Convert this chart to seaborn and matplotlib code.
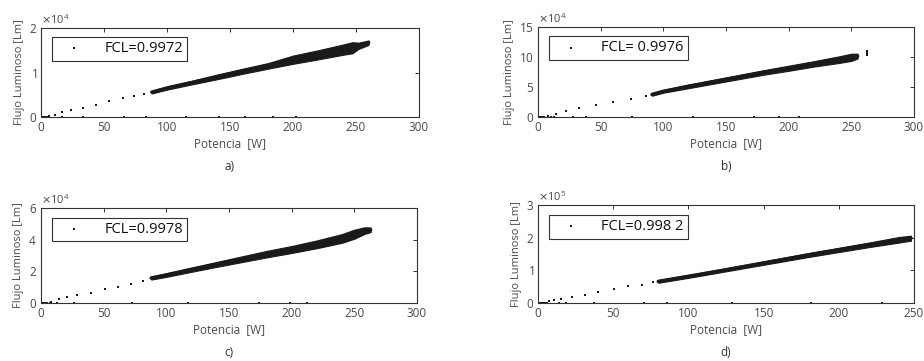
import matplotlib
matplotlib.use("Agg")
import matplotlib.pyplot as plt
import matplotlib.ticker as mticker
import seaborn as sns
import pandas as pd

sns.set_theme(style="white")
plt.rcParams['font.family'] = ['Open Sans', 'DejaVu Sans']
plt.rcParams['mathtext.fontset'] = 'dejavusans'

# ---------------- data ----------------
panel_ids = ["a)", "b)", "c)", "d)"]
fcl_labels = ["FCL=0.9972", "FCL= 0.9976", "FCL=0.9978", "FCL=0.998 2"]

# sparse low-power points (W, Lm)
sparse_x_a = [0.5, 1, 1.5, 2, 3, 4, 5, 6.6, 11, 17, 24, 33, 43.6, 54, 65, 74, 82]
sparse_y_a = [0, 20, 0, 40, 0, 60, 0, 150, 520, 1040, 1490, 2090, 2760, 3500, 4180, 4700, 5220]
sparse_x_b = [0.5, 1, 1.5, 2, 3, 4, 5, 8, 14.5, 22, 33, 46, 60, 74, 86, 262.5, 262.5, 262.5, 262.5]
sparse_y_b = [0, 200, 0, 300, 0, 400, 0, 2500, 5500, 10000, 14400, 19300, 24900, 29800, 34300, 104000, 106000, 108000, 110000]
sparse_x_c = [0.5, 1, 1.5, 2, 3, 4, 5, 8, 14, 21, 29, 39.5, 50.7, 61.6, 71.5, 81]
sparse_y_c = [0, 50, 0, 80, 0, 100, 0, 600, 2300, 3700, 5000, 6600, 8900, 10300, 12000, 14000]
sparse_x_d = [0.5, 1, 1.5, 2, 3, 4, 5, 7.6, 10.9, 15, 22.8, 31, 40, 50.4, 60, 69, 76.7]
sparse_y_d = [0, 500, 0, 800, 0, 1000, 0, 5000, 10000, 13000, 18000, 25000, 34000, 43000, 51000, 55000, 64000]

# points lying on the zero line
zero_x_a = [6.6, 17, 33, 66, 83, 115, 141, 162, 184, 202]
zero_x_b = [10.6, 13, 28, 38, 75, 124, 172, 192, 208]
zero_x_c = [7.5, 12.8, 26, 73, 117, 174, 199, 212]
zero_x_d = [6, 14, 18.5, 37, 70.6, 86, 129, 181.5, 229]

# dense band: power, lower and upper flux
band_x_a = [88, 100, 120, 140, 160, 180, 200, 220, 240, 247, 252, 260]
band_lo_a = [5300, 6150, 7350, 8500, 9700, 10850, 11950, 12950, 14000, 14300, 15300, 16200]
band_hi_a = [5850, 6850, 8150, 9550, 10850, 12100, 13800, 15000, 16300, 16800, 16700, 17200]
band_x_b = [91, 100, 120, 140, 160, 180, 200, 220, 240, 250, 255]
band_lo_b = [35500, 40500, 48000, 55500, 63000, 70500, 77000, 84000, 90000, 93500, 97500]
band_hi_b = [39500, 45000, 54000, 62000, 70000, 78000, 85500, 93000, 101000, 105500, 105500]
band_x_c = [88, 100, 120, 140, 160, 180, 200, 220, 240, 250, 258, 263]
band_lo_c = [14800, 16500, 19700, 22800, 25800, 28800, 31600, 34600, 38000, 40600, 43600, 44800]
band_hi_c = [16700, 18800, 22400, 25900, 29400, 32900, 36000, 39500, 43500, 46300, 47800, 47700]
band_x_d = [80, 100, 120, 140, 160, 180, 200, 220, 240, 248]
band_lo_d = [62000, 77000, 93000, 109000, 125000, 141000, 156000, 171000, 185000, 191000]
band_hi_d = [70000, 86000, 102000, 119000, 136000, 153000, 169000, 185000, 202000, 206000]

x_limits = [300, 300, 300, 250]
y_limits = [2e4, 15e4, 6e4, 3e5]
y_ticks = [[0, 1e4, 2e4], [0, 5e4, 10e4, 15e4], [0, 2e4, 4e4, 6e4], [0, 1e5, 2e5, 3e5]]
y_exp = [4, 4, 4, 5]

sparse = [(sparse_x_a, sparse_y_a), (sparse_x_b, sparse_y_b), (sparse_x_c, sparse_y_c), (sparse_x_d, sparse_y_d)]
zeros = [zero_x_a, zero_x_b, zero_x_c, zero_x_d]
bands = [(band_x_a, band_lo_a, band_hi_a), (band_x_b, band_lo_b, band_hi_b),
         (band_x_c, band_lo_c, band_hi_c), (band_x_d, band_lo_d, band_hi_d)]

# ---------------- layout ----------------
W, H = 924, 361
fig = plt.figure(figsize=(W / 100, H / 100), dpi=100)
boxes = [(41, 28, 419, 117), (538, 27, 914, 117), (41, 208, 417, 303), (538, 205, 914, 303)]
txt_col = '#4a4a4a'
dot_col = '#1a1a1a'

for i in range(4):
    l, t, r, b = boxes[i]
    ax = fig.add_axes([l / W, 1 - b / H, (r - l) / W, (b - t) / H])
    sx, sy = sparse[i]
    zx = zeros[i]
    pts = pd.DataFrame({"P": list(sx) + list(zx), "F": list(sy) + [0] * len(zx)})
    bx, blo, bhi = bands[i]
    band = pd.DataFrame({"P": list(bx) + list(bx), "F": list(blo) + list(bhi)})

    sns.lineplot(data=band, x="P", y="F", ax=ax, estimator="mean", errorbar=("pi", 100),
                 color=dot_col, linewidth=2.6, err_kws={"alpha": 1, "linewidth": 0.8,
                                                       "edgecolor": dot_col})
    sns.scatterplot(data=pts, x="P", y="F", ax=ax, color=dot_col, s=4, marker="s",
                    linewidth=0, label=fcl_labels[i])

    ax.set_xlim(0, x_limits[i])
    ax.set_ylim(0, y_limits[i])
    ax.set_xticks(list(range(0, x_limits[i] + 1, 50)))
    ax.set_yticks(y_ticks[i])
    fmt = mticker.ScalarFormatter(useMathText=True)
    fmt.set_powerlimits((y_exp[i], y_exp[i]))
    ax.yaxis.set_major_formatter(fmt)
    ax.yaxis.get_offset_text().set_fontsize(8)
    ax.yaxis.get_offset_text().set_color(txt_col)

    for s in ax.spines.values():
        s.set_visible(True)
        s.set_color('#333333')
        s.set_linewidth(0.8)
    ax.tick_params(direction="in", length=3, width=0.7, top=True, right=True,
                   labelsize=8.5, colors='#333333', labelcolor=txt_col, pad=3)
    ax.set_xlabel("Potencia  [W]", fontsize=8.5, color=txt_col, labelpad=2)
    ax.set_ylabel("Flujo Luminoso [Lm]", fontsize=8, color=txt_col, labelpad=3)

    leg = ax.legend(loc="upper left", bbox_to_anchor=(0.029, 0.9), borderaxespad=0,
                    fontsize=10.5, frameon=True, fancybox=False, edgecolor='#333333',
                    framealpha=1, handlelength=2.4, handletextpad=0.9, borderpad=0.3,
                    markerscale=1.0)
    leg.get_frame().set_linewidth(0.8)
    for tx in leg.get_texts():
        tx.set_color('#111111')

    cx = (l + r) / 2 / W
    cy = 1 - (b + 50) / H if i < 2 else 1 - (b + 49) / H
    fig.text(cx, cy, panel_ids[i], ha="center", va="center", fontsize=8.5, color='#333333')

fig.savefig("out.png", dpi=100)
